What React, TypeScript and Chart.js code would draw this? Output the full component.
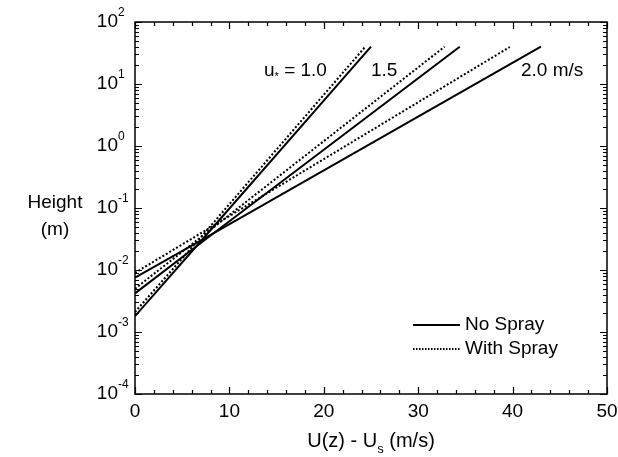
import React, { useEffect, useRef } from "react";
import { Chart, registerables } from "chart.js";

Chart.register(...registerables);

// ---- Data ----
// No Spray (solid) profiles: velocity U(z)-Us (m/s) vs height (m)
const noSpray10U = [0, 7.5, 25.0];
const noSpray10Z = [0.0018, 0.036, 40];
const noSpray15U = [0, 7.8, 34.4];
const noSpray15Z = [0.0042, 0.034, 40];
const noSpray20U = [0, 7.6, 43.0];
const noSpray20Z = [0.0075, 0.034, 40];

// With Spray (dotted) profiles
const spray10U = [0, 7.2, 24.4];
const spray10Z = [0.0021, 0.037, 40];
const spray15U = [0, 7.0, 32.8];
const spray15Z = [0.005, 0.034, 40];
const spray20U = [0, 6.3, 39.7];
const spray20Z = [0.009, 0.034, 39.5];

const xTickValues = [0, 10, 20, 30, 40, 50];
const xTickLabels = ["0", "10", "20", "30", "40", "50"];
const yTickExponents = [-4, -3, -2, -1, 0, 1, 2];
const yTickExponentLabels = ["-4", "-3", "-2", "-1", "0", "1", "2"];

const legendLabels = ["No Spray", "With Spray"];
const FONT = "Arial, 'Liberation Sans', sans-serif";

function pts(u: number[], z: number[]) {
  return u.map((v, i) => ({ x: v, y: z[i] }));
}

const decorPlugin = {
  id: "decor",
  afterDraw(chart: any) {
    const ctx: CanvasRenderingContext2D = chart.ctx;
    const { left, right, top, bottom } = chart.chartArea;
    const xs = chart.scales.x;
    const ys = chart.scales.y;
    ctx.save();
    ctx.strokeStyle = "#000";
    ctx.fillStyle = "#000";
    ctx.lineWidth = 1.5;
    ctx.strokeRect(left, top, right - left, bottom - top);

    // x ticks (inward, top and bottom)
    ctx.lineWidth = 1.2;
    ctx.beginPath();
    for (let v = 0; v <= 50; v += 2) {
      const px = Math.round(xs.getPixelForValue(v)) + 0.5;
      const len = v % 10 === 0 ? 7 : 4;
      ctx.moveTo(px, bottom);
      ctx.lineTo(px, bottom - len);
      ctx.moveTo(px, top);
      ctx.lineTo(px, top + len);
    }
    // y ticks (inward, left and right)
    for (const e of yTickExponents) {
      for (let m = 1; m <= 9; m++) {
        if (e === 2 && m > 1) break;
        const val = m * Math.pow(10, e);
        const py = Math.round(ys.getPixelForValue(val)) + 0.5;
        const len = m === 1 ? 7 : 4;
        ctx.moveTo(left, py);
        ctx.lineTo(left + len, py);
        ctx.moveTo(right, py);
        ctx.lineTo(right - len, py);
      }
    }
    ctx.stroke();

    // x tick labels
    ctx.font = `19px ${FONT}`;
    ctx.textAlign = "center";
    ctx.textBaseline = "middle";
    xTickValues.forEach((v, i) => {
      ctx.fillText(xTickLabels[i], xs.getPixelForValue(v), bottom + 18);
    });

    // y tick labels: 10 with superscript exponent
    yTickExponents.forEach((e, i) => {
      const py = ys.getPixelForValue(Math.pow(10, e));
      ctx.font = `12px ${FONT}`;
      const ew = ctx.measureText(yTickExponentLabels[i]).width;
      ctx.textAlign = "left";
      ctx.textBaseline = "middle";
      const expX = left - 17;
      ctx.fillText(yTickExponentLabels[i], expX, py - 9);
      ctx.font = `19px ${FONT}`;
      ctx.textAlign = "right";
      ctx.fillText("10", expX, py);
      void ew;
    });

    // x axis title: U(z) - U_s (m/s)
    ctx.textBaseline = "middle";
    ctx.textAlign = "left";
    const t1 = "U(z) - U";
    const t2 = "s";
    const t3 = " (m/s)";
    ctx.font = `20px ${FONT}`;
    const w1 = ctx.measureText(t1).width;
    const w3 = ctx.measureText(t3).width;
    ctx.font = `13px ${FONT}`;
    const w2 = ctx.measureText(t2).width;
    const total = w1 + w2 + w3;
    const cx = (left + right) / 2;
    let tx = cx - total / 2;
    const ty = 441;
    ctx.font = `20px ${FONT}`;
    ctx.fillText(t1, tx, ty);
    tx += w1;
    ctx.font = `13px ${FONT}`;
    ctx.fillText(t2, tx, ty + 8);
    tx += w2;
    ctx.font = `20px ${FONT}`;
    ctx.fillText(t3, tx, ty);

    // y axis title
    ctx.textAlign = "center";
    ctx.font = `19px ${FONT}`;
    ctx.fillText("Height", 55, 203);
    ctx.fillText("(m)", 55, 230);

    // annotations
    ctx.textAlign = "left";
    ctx.font = `19px ${FONT}`;
    const ay = 71;
    let ax = 264;
    ctx.fillText("u", ax, ay);
    ax += ctx.measureText("u").width;
    ctx.font = `11px ${FONT}`;
    ctx.fillText("*", ax, ay + 6);
    ax += ctx.measureText("*").width;
    ctx.font = `19px ${FONT}`;
    ctx.fillText(" = 1.0", ax, ay);
    ctx.fillText("1.5", 371, ay);
    ctx.fillText("2.0 m/s", 521, ay);

    // legend
    ctx.lineWidth = 2;
    ctx.beginPath();
    ctx.moveTo(413, 325);
    ctx.lineTo(460, 325);
    ctx.stroke();
    ctx.setLineDash([1.5, 1.5]);
    ctx.beginPath();
    ctx.moveTo(413, 349);
    ctx.lineTo(460, 349);
    ctx.stroke();
    ctx.setLineDash([]);
    ctx.font = `19px ${FONT}`;
    ctx.fillText(legendLabels[0], 465, 325);
    ctx.fillText(legendLabels[1], 465, 349);

    ctx.restore();
  },
};

export default function App() {
  const ref = useRef<HTMLCanvasElement | null>(null);
  useEffect(() => {
    if (!ref.current) return;
    const solid = { borderColor: "#000", borderWidth: 2, pointRadius: 0, fill: false, tension: 0 };
    const dotted = { ...solid, borderDash: [2, 2] };
    const chart = new Chart(ref.current, {
      type: "line",
      data: {
        datasets: [
          { label: "No Spray 1.0", data: pts(noSpray10U, noSpray10Z), ...solid },
          { label: "No Spray 1.5", data: pts(noSpray15U, noSpray15Z), ...solid },
          { label: "No Spray 2.0", data: pts(noSpray20U, noSpray20Z), ...solid },
          { label: "With Spray 1.0", data: pts(spray10U, spray10Z), ...dotted },
          { label: "With Spray 1.5", data: pts(spray15U, spray15Z), ...dotted },
          { label: "With Spray 2.0", data: pts(spray20U, spray20Z), ...dotted },
        ] as any,
      },
      options: {
        animation: false,
        responsive: false,
        parsing: false as any,
        layout: { padding: { left: 135, right: 11, top: 22, bottom: 63 } },
        plugins: { legend: { display: false }, tooltip: { enabled: false } },
        scales: {
          x: {
            type: "linear",
            min: 0,
            max: 50,
            ticks: { display: false },
            grid: { display: false, drawTicks: false },
            border: { display: false },
          },
          y: {
            type: "logarithmic",
            min: 1e-4,
            max: 100,
            ticks: { display: false },
            grid: { display: false, drawTicks: false },
            border: { display: false },
          },
        },
      },
      plugins: [decorPlugin],
    });
    return () => chart.destroy();
  }, []);
  return (
    <div style={{ position: "fixed", left: 0, top: 0, width: 618, height: 457, background: "#fff" }}>
      <canvas ref={ref} width={618} height={457} style={{ width: 618, height: 457 }} />
    </div>
  );
}
